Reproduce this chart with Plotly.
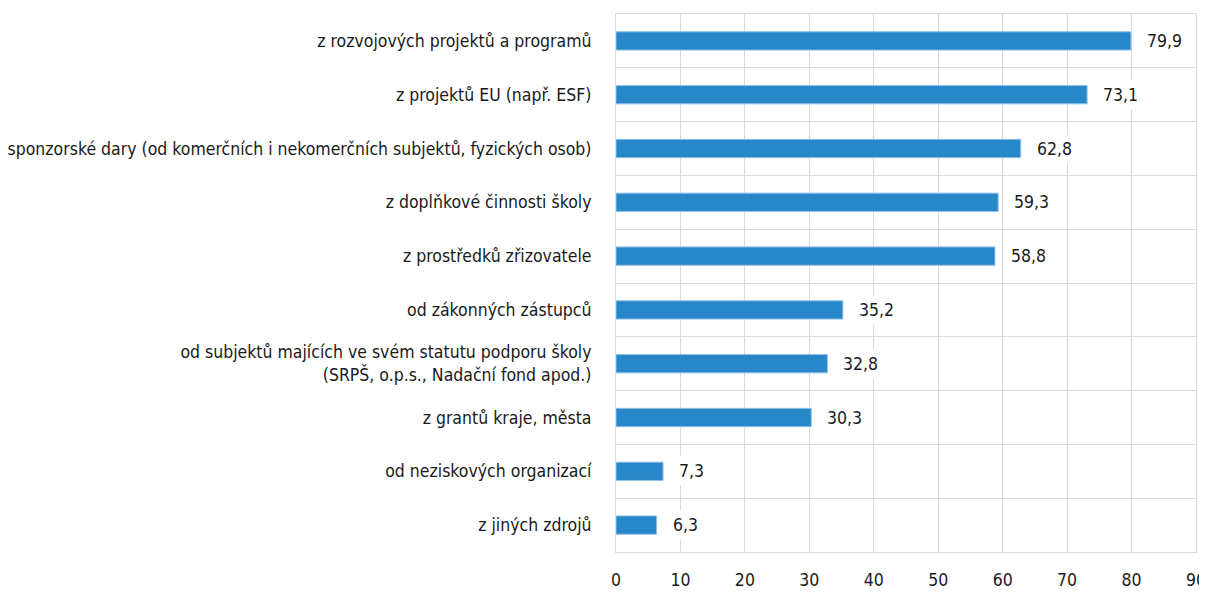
import plotly.graph_objects as go

categories = [
    "z rozvojových projektů a programů",
    "z projektů EU (např. ESF)",
    "sponzorské dary (od komerčních i nekomerčních subjektů, fyzických osob)",
    "z doplňkové činnosti školy",
    "z prostředků zřizovatele",
    "od zákonných zástupců",
    "od subjektů majících ve svém statutu podporu školy<br>(SRPŠ, o.p.s., Nadační fond apod.)",
    "z grantů kraje, města",
    "od neziskových organizací",
    "z jiných zdrojů",
]
values = [79.9, 73.1, 62.8, 59.3, 58.8, 35.2, 32.8, 30.3, 7.3, 6.3]
x_ticks = [0, 10, 20, 30, 40, 50, 60, 70, 80, 90]

FONT = "DejaVu Sans Condensed, Liberation Sans Narrow, sans-serif"
SIZE = 17.5
positions = list(range(len(categories)))

fig = go.Figure()
fig.add_trace(go.Bar(
    x=values,
    y=positions,
    orientation="h",
    width=0.34,
    marker=dict(color="#2787c9", line=dict(color="#8fbfe6", width=1)),
    hoverinfo="x+y",
))

for v, p in zip(values, positions):
    fig.add_annotation(
        x=v, y=p, text=f"{v:.1f}".replace(".", ","),
        xanchor="left", yanchor="middle", xshift=11, showarrow=False,
        bgcolor="white", borderpad=4,
        font=dict(family=FONT, size=SIZE, color="#1a1a1a"),
    )

# page body adds an 8px offset, so the figure is sized to fit the window
fig.update_layout(
    width=1199, height=584,
    margin=dict(l=608, r=11, t=6, b=40),
    plot_bgcolor="white", paper_bgcolor="white",
    showlegend=False,
    font=dict(family=FONT, size=SIZE, color="#1a1a1a"),
)
fig.update_xaxes(
    range=[0, 90], tickvals=x_ticks, ticktext=[str(t) for t in x_ticks],
    showgrid=True, gridcolor="#d9d9d9", gridwidth=1,
    showline=True, linecolor="#d9d9d9", mirror=True,
    zeroline=False, ticks="", ticklabelstandoff=12, automargin=False,
)
fig.update_yaxes(
    range=[9.5, -0.5], tickvals=positions, ticktext=categories,
    showgrid=False, zeroline=False,
    showline=True, linecolor="#d9d9d9", mirror=True,
    ticks="", ticklabelstandoff=20, automargin=False,
    minor=dict(tickvals=[i + 0.5 for i in range(-1, 10)], showgrid=True,
               gridcolor="#d9d9d9", gridwidth=1, ticks=""),
)

fig.write_html("out.html")
